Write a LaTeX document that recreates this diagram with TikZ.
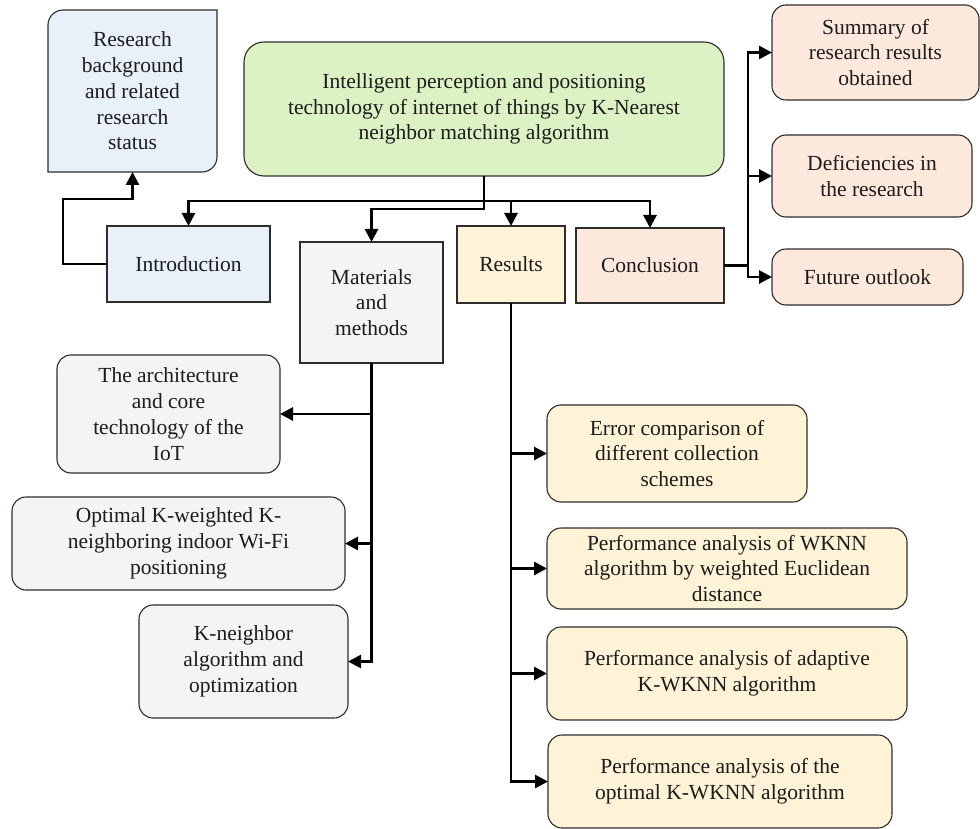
\documentclass[tikz,border=0pt]{standalone}
\usepackage{fontspec}
\setmainfont{Liberation Serif}
\usepackage{tikz}
\usetikzlibrary{arrows.meta}
\definecolor{MapInk}{RGB}{28,28,28}
\definecolor{MapFrame}{RGB}{45,45,45}
\definecolor{MapBlueSoft}{RGB}{232,240,250}
\definecolor{MapGreenSoft}{RGB}{221,242,196}
\definecolor{MapGreySoft}{RGB}{243,244,244}
\definecolor{MapYellowSoft}{RGB}{254,243,214}
\definecolor{MapPeachSoft}{RGB}{253,233,220}

\begin{document}
\begin{tikzpicture}[
x=1pt,
y=1pt,
every node/.style={font=\fontsize{21.5}{25.8}\selectfont,text=MapInk,outer sep=0pt,inner sep=0pt,align=center},
sectionBox/.style={draw=MapFrame,line width=1.1pt},
topicBox/.style={draw=MapFrame,line width=1.1pt,rounded corners=14pt},
titleBox/.style={draw=MapFrame,line width=1.1pt,rounded corners=20pt,fill=MapGreenSoft},
branchflow/.style={-{Triangle[length=13pt,width=13pt]},line width=2.8pt,draw=black,line join=miter}
]

\path[use as bounding box] (0,0) rectangle (980,-829);

% title
\node[titleBox,minimum width=480pt,minimum height=134pt] (title) at (484,-109) {Intelligent perception and positioning\\technology of internet of things by K-Nearest\\neighbor matching algorithm};

% background box, two rounded corners only
\draw[draw=MapFrame,line width=1.1pt,fill=MapBlueSoft] (48,-172) -- (48,-25) arc[start angle=180,end angle=90,radius=15] -- (217,-10) -- (217,-157) arc[start angle=0,end angle=-90,radius=15] -- cycle;
\node[minimum width=169pt,minimum height=162pt] (background) at (132.5,-91) {Research\\background\\and related\\research\\status};

% sections
\node[sectionBox,fill=MapBlueSoft,minimum width=163pt,minimum height=76pt] (intro) at (188.5,-264) {Introduction};
\node[sectionBox,fill=MapGreySoft,minimum width=143pt,minimum height=121pt] (methods) at (371.5,-302.5) {Materials\\and\\methods};
\node[sectionBox,fill=MapYellowSoft,minimum width=108pt,minimum height=77pt] (results) at (511,-264.5) {Results};
\node[sectionBox,fill=MapPeachSoft,minimum width=148pt,minimum height=75pt] (conclusion) at (650,-265.5) {Conclusion};

% conclusion topics
\node[topicBox,fill=MapPeachSoft,minimum width=207pt,minimum height=95pt] (summary) at (875.5,-52.5) {Summary of\\research results\\obtained};
\node[topicBox,fill=MapPeachSoft,minimum width=200pt,minimum height=82pt] (deficiency) at (872,-176) {Deficiencies in\\the research};
\node[topicBox,fill=MapPeachSoft,minimum width=191pt,minimum height=56pt] (outlook) at (867.5,-277) {Future outlook};

% methods topics
\node[topicBox,fill=MapGreySoft,minimum width=223pt,minimum height=118pt] (iot) at (168.5,-414) {The architecture\\and core\\technology of the\\IoT};
\node[topicBox,fill=MapGreySoft,minimum width=333pt,minimum height=93pt] (wifi) at (178.5,-543.5) {Optimal K-weighted K-\\neighboring indoor Wi-Fi\\positioning};
\node[topicBox,fill=MapGreySoft,minimum width=209pt,minimum height=113pt] (knn) at (243.5,-661.5) {K-neighbor\\algorithm and\\optimization};

% results topics
\node[topicBox,fill=MapYellowSoft,minimum width=260pt,minimum height=97pt] (errors) at (677,-453.5) {Error comparison of\\different collection\\schemes};
\node[topicBox,fill=MapYellowSoft,minimum width=360pt,minimum height=81pt] (wknn) at (727,-568.5) {Performance analysis of WKNN\\algorithm by weighted Euclidean\\distance};
\node[topicBox,fill=MapYellowSoft,minimum width=360pt,minimum height=93pt] (adaptive) at (727,-673.5) {Performance analysis of adaptive\\K-WKNN algorithm};
\node[topicBox,fill=MapYellowSoft,minimum width=344pt,minimum height=93pt] (optimal) at (720,-781.5) {Performance analysis of the\\optimal K-WKNN algorithm};

% flows
\draw[branchflow] (title.south) -- ++(0,-25) -| (intro.north);
\draw[branchflow] (title.south) -- ++(0,-25) -| (results.north);
\draw[branchflow] (title.south) -- ++(0,-25) -| (conclusion.north);
\draw[branchflow] (title.south) -- ++(0,-33) -| (methods.north);

\draw[branchflow] (intro.west) -| (63,-199) -| (background.south);

\draw[branchflow] (conclusion.east) -- ++(24,0) |- (summary.west);
\draw[branchflow] (conclusion.east) -- ++(24,0) |- (deficiency.west);
\draw[branchflow] (conclusion.east) -- ++(24,0) |- (outlook.west);

\draw[branchflow] (methods.south) |- (iot.east);
\draw[branchflow] (methods.south) |- (wifi.east);
\draw[branchflow] (methods.south) |- (knn.east);

\draw[branchflow] (results.south) |- (errors.west);
\draw[branchflow] (results.south) |- (wknn.west);
\draw[branchflow] (results.south) |- (adaptive.west);
\draw[branchflow] (results.south) |- (optimal.west);

\end{tikzpicture}
\end{document}
